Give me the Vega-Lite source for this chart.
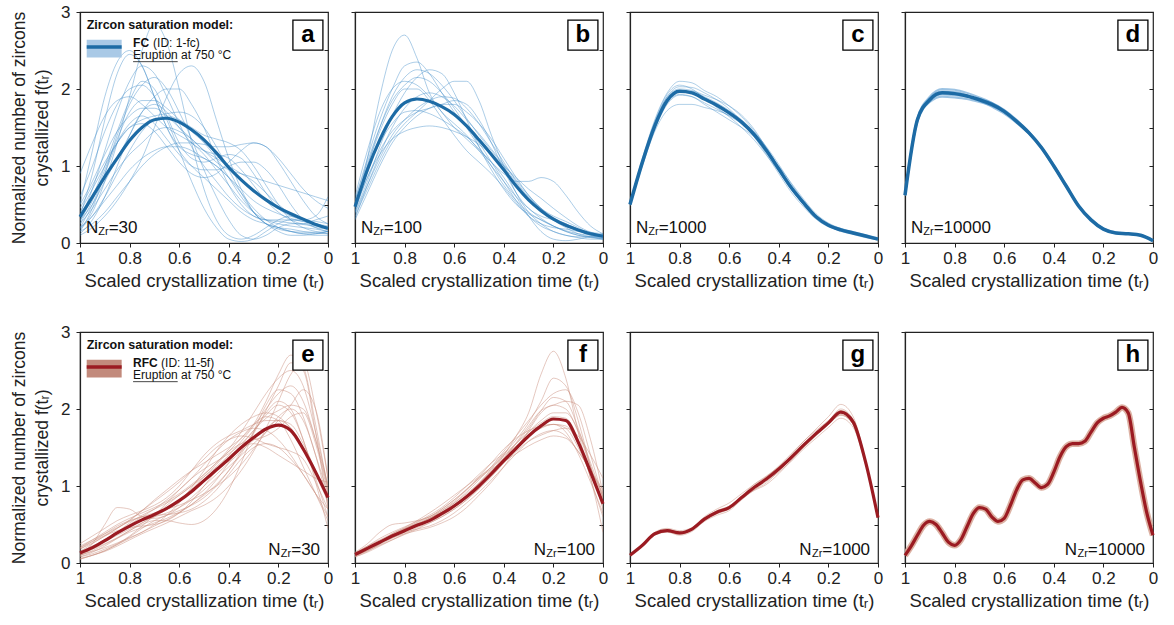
{
"$schema":"https://vega.github.io/schema/vega-lite/v6.json",
"background":"white",
"padding":{"left":9,"top":2,"right":10,"bottom":4},
"spacing":31,
"datasets":{
"a":[
{"t":1,"m":0.34,"s1":0.5,"s2":0.2,"s3":0.15,"s4":0.3,"s5":0.6,"s6":0.2,"s7":0.1,"s8":0.9,"s9":0.25,"s10":0.35,"s11":0.2,"s12":0.15,"s13":0.4,"s14":0.25,"s15":0.12,"s16":0.5,"s17":0.3,"s18":0.45,"s19":0.18,"s20":0.28},
{"t":0.95,"m":0.6,"s1":1.2,"s2":0.4,"s3":0.25,"s4":0.5,"s5":1.0,"s6":0.5,"s7":0.2,"s8":1.3,"s9":0.45,"s10":0.9,"s11":0.35,"s12":0.45,"s13":0.7,"s14":0.55,"s15":0.3,"s16":0.8,"s17":0.7,"s18":0.75,"s19":0.35,"s20":0.6},
{"t":0.9,"m":0.86,"s1":1.9,"s2":0.8,"s3":0.4,"s4":0.8,"s5":1.45,"s6":0.9,"s7":0.35,"s8":1.65,"s9":0.7,"s10":1.6,"s11":0.55,"s12":0.9,"s13":1.0,"s14":0.95,"s15":0.6,"s16":1.15,"s17":1.2,"s18":1.05,"s19":0.6,"s20":1.0},
{"t":0.85,"m":1.1,"s1":2.35,"s2":1.3,"s3":0.6,"s4":1.1,"s5":1.8,"s6":1.3,"s7":0.55,"s8":1.85,"s9":0.95,"s10":2.2,"s11":0.75,"s12":1.4,"s13":1.3,"s14":1.35,"s15":1.0,"s16":1.45,"s17":1.7,"s18":1.3,"s19":0.9,"s20":1.45},
{"t":0.8,"m":1.33,"s1":2.5,"s2":1.9,"s3":0.8,"s4":1.4,"s5":2.0,"s6":1.55,"s7":0.8,"s8":1.9,"s9":1.15,"s10":2.45,"s11":0.95,"s12":1.8,"s13":1.5,"s14":1.7,"s15":1.4,"s16":1.65,"s17":2.1,"s18":1.5,"s19":1.2,"s20":1.85},
{"t":0.75,"m":1.5,"s1":2.3,"s2":2.5,"s3":1.0,"s4":1.7,"s5":2.05,"s6":1.65,"s7":1.1,"s8":1.8,"s9":1.3,"s10":2.3,"s11":1.1,"s12":2.05,"s13":1.55,"s14":1.85,"s15":1.7,"s16":1.75,"s17":2.3,"s18":1.6,"s19":1.45,"s20":2.1},
{"t":0.7,"m":1.6,"s1":1.9,"s2":2.85,"s3":1.15,"s4":1.9,"s5":1.9,"s6":1.55,"s7":1.5,"s8":1.65,"s9":1.45,"s10":1.9,"s11":1.2,"s12":2.15,"s13":1.45,"s14":1.85,"s15":1.8,"s16":1.75,"s17":2.2,"s18":1.65,"s19":1.6,"s20":2.0},
{"t":0.65,"m":1.62,"s1":1.5,"s2":2.6,"s3":1.25,"s4":2.0,"s5":1.6,"s6":1.35,"s7":1.9,"s8":1.5,"s9":1.5,"s10":1.5,"s11":1.25,"s12":2.0,"s13":1.25,"s14":1.75,"s15":1.7,"s16":1.65,"s17":1.9,"s18":1.68,"s19":1.65,"s20":1.65},
{"t":0.6,"m":1.57,"s1":1.2,"s2":2.0,"s3":1.3,"s4":2.0,"s5":1.2,"s6":1.15,"s7":2.2,"s8":1.4,"s9":1.45,"s10":1.25,"s11":1.25,"s12":1.7,"s13":1.05,"s14":1.6,"s15":1.5,"s16":1.5,"s17":1.55,"s18":1.7,"s19":1.6,"s20":1.3},
{"t":0.55,"m":1.47,"s1":1.0,"s2":1.3,"s3":1.3,"s4":1.8,"s5":0.8,"s6":1.0,"s7":2.3,"s8":1.3,"s9":1.35,"s10":1.15,"s11":1.2,"s12":1.35,"s13":0.9,"s14":1.45,"s15":1.3,"s16":1.35,"s17":1.25,"s18":1.65,"s19":1.5,"s20":1.1},
{"t":0.5,"m":1.34,"s1":0.85,"s2":0.7,"s3":1.28,"s4":1.5,"s5":0.45,"s6":0.95,"s7":2.1,"s8":1.15,"s9":1.2,"s10":1.1,"s11":1.1,"s12":0.95,"s13":0.85,"s14":1.3,"s15":1.2,"s16":1.2,"s17":1.0,"s18":1.5,"s19":1.4,"s20":1.05},
{"t":0.45,"m":1.17,"s1":0.7,"s2":0.3,"s3":1.25,"s4":1.1,"s5":0.2,"s6":0.95,"s7":1.6,"s8":0.95,"s9":1.05,"s10":1.0,"s11":1.0,"s12":0.6,"s13":0.9,"s14":1.1,"s15":1.15,"s16":1.1,"s17":0.8,"s18":1.25,"s19":1.35,"s20":1.1},
{"t":0.4,"m":0.98,"s1":0.55,"s2":0.1,"s3":1.25,"s4":0.75,"s5":0.05,"s6":1.0,"s7":1.1,"s8":0.75,"s9":0.95,"s10":0.85,"s11":0.85,"s12":0.3,"s13":1.05,"s14":0.85,"s15":1.1,"s16":1.0,"s17":0.6,"s18":0.95,"s19":1.3,"s20":1.15},
{"t":0.35,"m":0.82,"s1":0.4,"s2":0.05,"s3":1.28,"s4":0.5,"s5":0.02,"s6":1.05,"s7":0.7,"s8":0.55,"s9":0.9,"s10":0.65,"s11":0.7,"s12":0.1,"s13":1.2,"s14":0.6,"s15":0.95,"s16":0.9,"s17":0.45,"s18":0.65,"s19":1.2,"s20":1.1},
{"t":0.3,"m":0.68,"s1":0.3,"s2":0.1,"s3":1.3,"s4":0.35,"s5":0.05,"s6":1.05,"s7":0.4,"s8":0.4,"s9":0.85,"s10":0.45,"s11":0.55,"s12":0.05,"s13":1.3,"s14":0.4,"s15":0.75,"s16":0.8,"s17":0.35,"s18":0.4,"s19":1.0,"s20":0.9},
{"t":0.25,"m":0.56,"s1":0.25,"s2":0.2,"s3":1.25,"s4":0.3,"s5":0.15,"s6":0.95,"s7":0.25,"s8":0.3,"s9":0.8,"s10":0.3,"s11":0.45,"s12":0.1,"s13":1.25,"s14":0.25,"s15":0.55,"s16":0.65,"s17":0.3,"s18":0.25,"s19":0.75,"s20":0.65},
{"t":0.2,"m":0.46,"s1":0.2,"s2":0.3,"s3":1.1,"s4":0.3,"s5":0.25,"s6":0.75,"s7":0.2,"s8":0.25,"s9":0.75,"s10":0.2,"s11":0.38,"s12":0.2,"s13":1.05,"s14":0.15,"s15":0.4,"s16":0.5,"s17":0.28,"s18":0.18,"s19":0.5,"s20":0.45},
{"t":0.15,"m":0.38,"s1":0.18,"s2":0.35,"s3":0.9,"s4":0.3,"s5":0.3,"s6":0.5,"s7":0.15,"s8":0.22,"s9":0.7,"s10":0.15,"s11":0.32,"s12":0.25,"s13":0.8,"s14":0.1,"s15":0.3,"s16":0.38,"s17":0.26,"s18":0.15,"s19":0.3,"s20":0.35},
{"t":0.1,"m":0.31,"s1":0.15,"s2":0.3,"s3":0.7,"s4":0.28,"s5":0.3,"s6":0.3,"s7":0.12,"s8":0.2,"s9":0.65,"s10":0.12,"s11":0.28,"s12":0.25,"s13":0.55,"s14":0.1,"s15":0.25,"s16":0.3,"s17":0.24,"s18":0.14,"s19":0.2,"s20":0.3},
{"t":0.05,"m":0.24,"s1":0.13,"s2":0.25,"s3":0.55,"s4":0.25,"s5":0.25,"s6":0.2,"s7":0.12,"s8":0.18,"s9":0.6,"s10":0.1,"s11":0.25,"s12":0.2,"s13":0.35,"s14":0.12,"s15":0.3,"s16":0.35,"s17":0.22,"s18":0.14,"s19":0.15,"s20":0.28},
{"t":0,"m":0.19,"s1":0.12,"s2":0.2,"s3":0.45,"s4":0.2,"s5":0.2,"s6":0.15,"s7":0.15,"s8":0.15,"s9":0.55,"s10":0.1,"s11":0.22,"s12":0.18,"s13":0.25,"s14":0.15,"s15":0.35,"s16":0.6,"s17":0.2,"s18":0.15,"s19":0.12,"s20":0.25}
],
"b":[
{"t":1,"m":0.47,"s1":0.4,"s2":0.55,"s3":0.35,"s4":0.45,"s5":0.4,"s6":0.5,"s7":0.6,"s8":0.3,"s9":0.5,"s10":0.42,"s11":0.38,"s12":0.55,"s13":0.32,"s14":0.5},
{"t":0.95,"m":0.95,"s1":1.1,"s2":1.1,"s3":0.7,"s4":0.85,"s5":0.8,"s6":0.95,"s7":1.2,"s8":0.65,"s9":1.0,"s10":0.85,"s11":0.75,"s12":1.05,"s13":0.75,"s14":1.0},
{"t":0.9,"m":1.34,"s1":1.9,"s2":1.6,"s3":1.05,"s4":1.15,"s5":1.25,"s6":1.3,"s7":1.7,"s8":1.0,"s9":1.45,"s10":1.2,"s11":1.1,"s12":1.5,"s13":1.15,"s14":1.5},
{"t":0.85,"m":1.64,"s1":2.5,"s2":2.0,"s3":1.35,"s4":1.35,"s5":1.65,"s6":1.55,"s7":2.0,"s8":1.3,"s9":1.8,"s10":1.45,"s11":1.4,"s12":1.85,"s13":1.5,"s14":1.9},
{"t":0.8,"m":1.82,"s1":2.7,"s2":2.3,"s3":1.55,"s4":1.45,"s5":1.95,"s6":1.7,"s7":2.1,"s8":1.5,"s9":2.0,"s10":1.6,"s11":1.6,"s12":2.05,"s13":1.75,"s14":2.15},
{"t":0.75,"m":1.87,"s1":2.4,"s2":2.35,"s3":1.7,"s4":1.5,"s5":2.15,"s6":1.72,"s7":2.05,"s8":1.65,"s9":2.0,"s10":1.7,"s11":1.75,"s12":2.15,"s13":1.9,"s14":2.25},
{"t":0.7,"m":1.84,"s1":1.95,"s2":2.2,"s3":1.85,"s4":1.52,"s5":2.25,"s6":1.68,"s7":1.9,"s8":1.75,"s9":1.85,"s10":1.75,"s11":1.85,"s12":2.1,"s13":1.95,"s14":2.2},
{"t":0.65,"m":1.77,"s1":1.7,"s2":1.95,"s3":2.0,"s4":1.5,"s5":2.2,"s6":1.6,"s7":1.7,"s8":1.8,"s9":1.62,"s10":1.8,"s11":1.9,"s12":1.95,"s13":1.9,"s14":2.05},
{"t":0.6,"m":1.67,"s1":1.55,"s2":1.7,"s3":2.1,"s4":1.45,"s5":1.95,"s6":1.5,"s7":1.5,"s8":1.8,"s9":1.4,"s10":1.85,"s11":1.88,"s12":1.75,"s13":1.78,"s14":1.85},
{"t":0.55,"m":1.52,"s1":1.4,"s2":1.5,"s3":2.1,"s4":1.38,"s5":1.6,"s6":1.38,"s7":1.35,"s8":1.7,"s9":1.2,"s10":1.8,"s11":1.75,"s12":1.5,"s13":1.6,"s14":1.62},
{"t":0.5,"m":1.34,"s1":1.2,"s2":1.3,"s3":1.85,"s4":1.28,"s5":1.25,"s6":1.22,"s7":1.2,"s8":1.55,"s9":1.05,"s10":1.6,"s11":1.55,"s12":1.25,"s13":1.42,"s14":1.4},
{"t":0.45,"m":1.15,"s1":1.0,"s2":1.05,"s3":1.4,"s4":1.15,"s5":0.95,"s6":1.05,"s7":1.05,"s8":1.35,"s9":0.9,"s10":1.3,"s11":1.3,"s12":1.0,"s13":1.22,"s14":1.2},
{"t":0.4,"m":0.95,"s1":0.8,"s2":0.8,"s3":1.0,"s4":1.0,"s5":0.7,"s6":0.9,"s7":0.85,"s8":1.1,"s9":0.72,"s10":0.95,"s11":1.05,"s12":0.75,"s13":1.02,"s14":1.0},
{"t":0.35,"m":0.74,"s1":0.6,"s2":0.55,"s3":0.65,"s4":0.85,"s5":0.5,"s6":0.8,"s7":0.6,"s8":0.85,"s9":0.52,"s10":0.65,"s11":0.8,"s12":0.55,"s13":0.82,"s14":0.78},
{"t":0.3,"m":0.56,"s1":0.45,"s2":0.35,"s3":0.4,"s4":0.7,"s5":0.38,"s6":0.8,"s7":0.35,"s8":0.62,"s9":0.35,"s10":0.45,"s11":0.6,"s12":0.4,"s13":0.62,"s14":0.58},
{"t":0.25,"m":0.42,"s1":0.32,"s2":0.22,"s3":0.25,"s4":0.58,"s5":0.3,"s6":0.85,"s7":0.15,"s8":0.45,"s9":0.25,"s10":0.35,"s11":0.45,"s12":0.3,"s13":0.45,"s14":0.42},
{"t":0.2,"m":0.31,"s1":0.22,"s2":0.15,"s3":0.15,"s4":0.45,"s5":0.22,"s6":0.8,"s7":0.05,"s8":0.33,"s9":0.2,"s10":0.3,"s11":0.35,"s12":0.22,"s13":0.3,"s14":0.3},
{"t":0.15,"m":0.23,"s1":0.15,"s2":0.1,"s3":0.1,"s4":0.33,"s5":0.15,"s6":0.62,"s7":0.03,"s8":0.25,"s9":0.18,"s10":0.25,"s11":0.28,"s12":0.16,"s13":0.2,"s14":0.22},
{"t":0.1,"m":0.17,"s1":0.1,"s2":0.07,"s3":0.08,"s4":0.22,"s5":0.1,"s6":0.4,"s7":0.05,"s8":0.18,"s9":0.15,"s10":0.18,"s11":0.2,"s12":0.12,"s13":0.12,"s14":0.16},
{"t":0.05,"m":0.12,"s1":0.08,"s2":0.05,"s3":0.08,"s4":0.14,"s5":0.07,"s6":0.22,"s7":0.08,"s8":0.14,"s9":0.12,"s10":0.12,"s11":0.12,"s12":0.1,"s13":0.08,"s14":0.1},
{"t":0,"m":0.09,"s1":0.06,"s2":0.05,"s3":0.1,"s4":0.1,"s5":0.05,"s6":0.12,"s7":0.08,"s8":0.12,"s9":0.1,"s10":0.08,"s11":0.07,"s12":0.08,"s13":0.05,"s14":0.06}
],
"c":[
{"t":1,"m":0.5,"s1":0.52,"s2":0.48,"s3":0.5,"s4":0.49,"s5":0.51,"s6":0.5,"s7":0.5,"s8":0.49},
{"t":0.95,"m":1.05,"s1":1.1,"s2":1.0,"s3":1.06,"s4":1.02,"s5":1.08,"s6":1.04,"s7":1.07,"s8":1.03},
{"t":0.9,"m":1.52,"s1":1.6,"s2":1.45,"s3":1.55,"s4":1.48,"s5":1.56,"s6":1.5,"s7":1.58,"s8":1.5},
{"t":0.85,"m":1.85,"s1":1.95,"s2":1.72,"s3":1.9,"s4":1.8,"s5":1.9,"s6":1.82,"s7":1.93,"s8":1.84},
{"t":0.8,"m":1.97,"s1":2.1,"s2":1.8,"s3":2.03,"s4":1.92,"s5":2.0,"s6":1.93,"s7":2.05,"s8":1.98},
{"t":0.75,"m":1.95,"s1":2.08,"s2":1.8,"s3":2.02,"s4":1.9,"s5":1.98,"s6":1.9,"s7":2.0,"s8":1.97},
{"t":0.7,"m":1.87,"s1":1.98,"s2":1.76,"s3":1.95,"s4":1.8,"s5":1.92,"s6":1.82,"s7":1.88,"s8":1.9},
{"t":0.65,"m":1.79,"s1":1.9,"s2":1.72,"s3":1.86,"s4":1.7,"s5":1.86,"s6":1.74,"s7":1.76,"s8":1.82},
{"t":0.6,"m":1.69,"s1":1.78,"s2":1.66,"s3":1.74,"s4":1.6,"s5":1.78,"s6":1.65,"s7":1.64,"s8":1.72},
{"t":0.55,"m":1.57,"s1":1.64,"s2":1.57,"s3":1.58,"s4":1.5,"s5":1.66,"s6":1.55,"s7":1.5,"s8":1.6},
{"t":0.5,"m":1.41,"s1":1.46,"s2":1.44,"s3":1.38,"s4":1.38,"s5":1.48,"s6":1.42,"s7":1.34,"s8":1.44},
{"t":0.45,"m":1.2,"s1":1.24,"s2":1.25,"s3":1.15,"s4":1.22,"s5":1.23,"s6":1.22,"s7":1.14,"s8":1.2},
{"t":0.4,"m":0.96,"s1":0.98,"s2":1.02,"s3":0.9,"s4":1.0,"s5":0.96,"s6":0.98,"s7":0.93,"s8":0.94},
{"t":0.35,"m":0.72,"s1":0.72,"s2":0.77,"s3":0.66,"s4":0.78,"s5":0.7,"s6":0.74,"s7":0.71,"s8":0.7},
{"t":0.3,"m":0.52,"s1":0.5,"s2":0.55,"s3":0.47,"s4":0.57,"s5":0.5,"s6":0.53,"s7":0.52,"s8":0.5},
{"t":0.25,"m":0.34,"s1":0.33,"s2":0.36,"s3":0.31,"s4":0.38,"s5":0.33,"s6":0.36,"s7":0.35,"s8":0.33},
{"t":0.2,"m":0.23,"s1":0.22,"s2":0.24,"s3":0.21,"s4":0.26,"s5":0.23,"s6":0.25,"s7":0.24,"s8":0.22},
{"t":0.15,"m":0.17,"s1":0.16,"s2":0.18,"s3":0.16,"s4":0.19,"s5":0.18,"s6":0.19,"s7":0.17,"s8":0.15},
{"t":0.1,"m":0.13,"s1":0.12,"s2":0.14,"s3":0.12,"s4":0.14,"s5":0.14,"s6":0.15,"s7":0.12,"s8":0.11},
{"t":0.05,"m":0.09,"s1":0.08,"s2":0.1,"s3":0.09,"s4":0.1,"s5":0.1,"s6":0.11,"s7":0.08,"s8":0.07},
{"t":0,"m":0.05,"s1":0.05,"s2":0.06,"s3":0.05,"s4":0.06,"s5":0.06,"s6":0.07,"s7":0.04,"s8":0.04}
],
"d":[
{"t":1,"m":0.62,"s1":0.62,"s2":0.62,"s3":0.62,"s4":0.62},
{"t":0.95,"m":1.6,"s1":1.62,"s2":1.58,"s3":1.61,"s4":1.59},
{"t":0.9,"m":1.86,"s1":1.9,"s2":1.83,"s3":1.88,"s4":1.85},
{"t":0.85,"m":1.95,"s1":2.0,"s2":1.9,"s3":1.97,"s4":1.93},
{"t":0.8,"m":1.94,"s1":1.99,"s2":1.89,"s3":1.96,"s4":1.92},
{"t":0.75,"m":1.91,"s1":1.95,"s2":1.87,"s3":1.92,"s4":1.9},
{"t":0.7,"m":1.86,"s1":1.89,"s2":1.83,"s3":1.85,"s4":1.87},
{"t":0.65,"m":1.8,"s1":1.82,"s2":1.78,"s3":1.77,"s4":1.82},
{"t":0.6,"m":1.71,"s1":1.72,"s2":1.7,"s3":1.68,"s4":1.73},
{"t":0.55,"m":1.58,"s1":1.58,"s2":1.58,"s3":1.56,"s4":1.6},
{"t":0.5,"m":1.43,"s1":1.42,"s2":1.44,"s3":1.42,"s4":1.44},
{"t":0.45,"m":1.24,"s1":1.23,"s2":1.25,"s3":1.24,"s4":1.24},
{"t":0.4,"m":1.0,"s1":0.99,"s2":1.01,"s3":1.0,"s4":1.0},
{"t":0.35,"m":0.74,"s1":0.73,"s2":0.75,"s3":0.74,"s4":0.74},
{"t":0.3,"m":0.48,"s1":0.48,"s2":0.49,"s3":0.48,"s4":0.48},
{"t":0.25,"m":0.3,"s1":0.3,"s2":0.31,"s3":0.3,"s4":0.3},
{"t":0.2,"m":0.18,"s1":0.18,"s2":0.19,"s3":0.18,"s4":0.18},
{"t":0.15,"m":0.13,"s1":0.13,"s2":0.14,"s3":0.13,"s4":0.13},
{"t":0.1,"m":0.12,"s1":0.12,"s2":0.12,"s3":0.12,"s4":0.12},
{"t":0.05,"m":0.1,"s1":0.1,"s2":0.1,"s3":0.1,"s4":0.1},
{"t":0,"m":0.03,"s1":0.03,"s2":0.04,"s3":0.03,"s4":0.03}
],
"e":[
{"t":1,"m":0.13,"s1":0.1,"s2":0.2,"s3":0.05,"s4":0.15,"s5":0.08,"s6":0.25,"s7":0.12,"s8":0.18,"s9":0.1,"s10":0.2,"s11":0.06,"s12":0.15,"s13":0.1,"s14":0.22,"s15":0.08,"s16":0.12,"s17":0.18,"s18":0.05,"s19":0.14,"s20":0.1},
{"t":0.95,"m":0.2,"s1":0.25,"s2":0.3,"s3":0.1,"s4":0.22,"s5":0.14,"s6":0.35,"s7":0.18,"s8":0.28,"s9":0.15,"s10":0.28,"s11":0.1,"s12":0.25,"s13":0.18,"s14":0.3,"s15":0.12,"s16":0.2,"s17":0.26,"s18":0.1,"s19":0.2,"s20":0.16},
{"t":0.9,"m":0.29,"s1":0.5,"s2":0.4,"s3":0.15,"s4":0.3,"s5":0.22,"s6":0.45,"s7":0.25,"s8":0.38,"s9":0.2,"s10":0.36,"s11":0.16,"s12":0.35,"s13":0.28,"s14":0.38,"s15":0.18,"s16":0.3,"s17":0.35,"s18":0.16,"s19":0.28,"s20":0.24},
{"t":0.85,"m":0.39,"s1":0.72,"s2":0.5,"s3":0.22,"s4":0.4,"s5":0.32,"s6":0.55,"s7":0.33,"s8":0.48,"s9":0.26,"s10":0.45,"s11":0.24,"s12":0.42,"s13":0.4,"s14":0.46,"s15":0.25,"s16":0.4,"s17":0.45,"s18":0.24,"s19":0.36,"s20":0.32},
{"t":0.8,"m":0.48,"s1":0.7,"s2":0.58,"s3":0.3,"s4":0.5,"s5":0.42,"s6":0.62,"s7":0.42,"s8":0.55,"s9":0.33,"s10":0.55,"s11":0.34,"s12":0.46,"s13":0.52,"s14":0.54,"s15":0.35,"s16":0.48,"s17":0.56,"s18":0.32,"s19":0.44,"s20":0.4},
{"t":0.75,"m":0.56,"s1":0.6,"s2":0.65,"s3":0.38,"s4":0.6,"s5":0.5,"s6":0.68,"s7":0.52,"s8":0.6,"s9":0.4,"s10":0.68,"s11":0.45,"s12":0.48,"s13":0.62,"s14":0.6,"s15":0.48,"s16":0.55,"s17":0.68,"s18":0.4,"s19":0.52,"s20":0.46},
{"t":0.7,"m":0.63,"s1":0.58,"s2":0.72,"s3":0.45,"s4":0.7,"s5":0.55,"s6":0.75,"s7":0.62,"s8":0.62,"s9":0.5,"s10":0.82,"s11":0.55,"s12":0.5,"s13":0.7,"s14":0.65,"s15":0.62,"s16":0.6,"s17":0.8,"s18":0.48,"s19":0.6,"s20":0.52},
{"t":0.65,"m":0.71,"s1":0.62,"s2":0.8,"s3":0.52,"s4":0.82,"s5":0.55,"s6":0.85,"s7":0.75,"s8":0.63,"s9":0.62,"s10":0.95,"s11":0.62,"s12":0.55,"s13":0.78,"s14":0.7,"s15":0.78,"s16":0.65,"s17":0.92,"s18":0.56,"s19":0.7,"s20":0.58},
{"t":0.6,"m":0.81,"s1":0.72,"s2":0.9,"s3":0.6,"s4":0.95,"s5":0.52,"s6":1.0,"s7":0.88,"s8":0.65,"s9":0.78,"s10":1.08,"s11":0.68,"s12":0.65,"s13":0.88,"s14":0.75,"s15":0.95,"s16":0.72,"s17":1.05,"s18":0.65,"s19":0.82,"s20":0.66},
{"t":0.55,"m":0.93,"s1":0.85,"s2":1.02,"s3":0.68,"s4":1.1,"s5":0.5,"s6":1.2,"s7":1.0,"s8":0.7,"s9":0.98,"s10":1.2,"s11":0.75,"s12":0.8,"s13":1.0,"s14":0.82,"s15":1.1,"s16":0.82,"s17":1.2,"s18":0.76,"s19":0.96,"s20":0.76},
{"t":0.5,"m":1.07,"s1":1.0,"s2":1.15,"s3":0.75,"s4":1.28,"s5":0.55,"s6":1.4,"s7":1.12,"s8":0.8,"s9":1.2,"s10":1.3,"s11":0.85,"s12":1.0,"s13":1.15,"s14":0.9,"s15":1.22,"s16":0.95,"s17":1.35,"s18":0.88,"s19":1.12,"s20":0.9},
{"t":0.45,"m":1.21,"s1":1.15,"s2":1.3,"s3":0.85,"s4":1.45,"s5":0.7,"s6":1.55,"s7":1.25,"s8":0.95,"s9":1.45,"s10":1.4,"s11":1.0,"s12":1.2,"s13":1.3,"s14":1.0,"s15":1.32,"s16":1.1,"s17":1.5,"s18":1.02,"s19":1.28,"s20":1.08},
{"t":0.4,"m":1.35,"s1":1.3,"s2":1.48,"s3":1.0,"s4":1.6,"s5":0.95,"s6":1.65,"s7":1.4,"s8":1.15,"s9":1.65,"s10":1.5,"s11":1.2,"s12":1.38,"s13":1.45,"s14":1.12,"s15":1.42,"s16":1.25,"s17":1.6,"s18":1.2,"s19":1.45,"s20":1.3},
{"t":0.35,"m":1.5,"s1":1.45,"s2":1.7,"s3":1.2,"s4":1.7,"s5":1.3,"s6":1.72,"s7":1.58,"s8":1.35,"s9":1.8,"s10":1.62,"s11":1.45,"s12":1.5,"s13":1.55,"s14":1.28,"s15":1.55,"s16":1.4,"s17":1.65,"s18":1.42,"s19":1.62,"s20":1.52},
{"t":0.3,"m":1.63,"s1":1.6,"s2":1.95,"s3":1.45,"s4":1.75,"s5":1.7,"s6":1.8,"s7":1.78,"s8":1.5,"s9":1.9,"s10":1.8,"s11":1.7,"s12":1.55,"s13":1.6,"s14":1.48,"s15":1.72,"s16":1.55,"s17":1.62,"s18":1.68,"s19":1.8,"s20":1.72},
{"t":0.25,"m":1.74,"s1":1.75,"s2":2.2,"s3":1.75,"s4":1.72,"s5":2.05,"s6":1.85,"s7":2.0,"s8":1.55,"s9":1.95,"s10":2.1,"s11":1.95,"s12":1.5,"s13":1.65,"s14":1.7,"s15":1.92,"s16":1.7,"s17":1.55,"s18":1.98,"s19":1.9,"s20":1.88},
{"t":0.2,"m":1.79,"s1":1.85,"s2":2.4,"s3":2.1,"s4":1.6,"s5":2.25,"s6":1.85,"s7":2.2,"s8":1.5,"s9":1.9,"s10":2.45,"s11":2.1,"s12":1.4,"s13":1.75,"s14":1.9,"s15":2.05,"s16":1.85,"s17":1.5,"s18":2.3,"s19":1.85,"s20":1.98},
{"t":0.15,"m":1.72,"s1":1.8,"s2":2.5,"s3":2.45,"s4":1.4,"s5":2.2,"s6":1.75,"s7":2.3,"s8":1.35,"s9":1.75,"s10":2.7,"s11":2.0,"s12":1.3,"s13":1.9,"s14":2.0,"s15":1.95,"s16":2.05,"s17":1.45,"s18":2.6,"s19":1.6,"s20":2.05},
{"t":0.1,"m":1.48,"s1":1.55,"s2":2.3,"s3":2.6,"s4":1.15,"s5":1.9,"s6":1.5,"s7":2.1,"s8":1.15,"s9":1.5,"s10":2.55,"s11":1.6,"s12":1.2,"s13":1.95,"s14":1.85,"s15":1.6,"s16":2.25,"s17":1.35,"s18":2.5,"s19":1.25,"s20":2.0},
{"t":0.05,"m":1.18,"s1":1.2,"s2":1.7,"s3":2.0,"s4":0.9,"s5":1.4,"s6":1.15,"s7":1.6,"s8":0.9,"s9":1.2,"s10":1.8,"s11":1.1,"s12":1.1,"s13":1.55,"s14":1.4,"s15":1.05,"s16":2.0,"s17":1.05,"s18":1.7,"s19":0.9,"s20":1.6},
{"t":0,"m":0.85,"s1":0.85,"s2":1.0,"s3":1.1,"s4":0.7,"s5":0.9,"s6":0.8,"s7":0.95,"s8":0.6,"s9":0.85,"s10":0.95,"s11":0.6,"s12":1.05,"s13":0.9,"s14":0.75,"s15":0.45,"s16":1.1,"s17":0.7,"s18":0.7,"s19":0.55,"s20":1.0}
],
"f":[
{"t":1,"m":0.11,"s1":0.08,"s2":0.14,"s3":0.1,"s4":0.12,"s5":0.09,"s6":0.13,"s7":0.1,"s8":0.12,"s9":0.08,"s10":0.13,"s11":0.1,"s12":0.11,"s13":0.09,"s14":0.12},
{"t":0.95,"m":0.19,"s1":0.15,"s2":0.25,"s3":0.16,"s4":0.2,"s5":0.17,"s6":0.22,"s7":0.18,"s8":0.2,"s9":0.14,"s10":0.21,"s11":0.18,"s12":0.19,"s13":0.16,"s14":0.22},
{"t":0.9,"m":0.27,"s1":0.25,"s2":0.4,"s3":0.24,"s4":0.28,"s5":0.25,"s6":0.3,"s7":0.26,"s8":0.28,"s9":0.22,"s10":0.29,"s11":0.26,"s12":0.27,"s13":0.23,"s14":0.32},
{"t":0.85,"m":0.35,"s1":0.38,"s2":0.5,"s3":0.32,"s4":0.35,"s5":0.34,"s6":0.38,"s7":0.33,"s8":0.36,"s9":0.3,"s10":0.37,"s11":0.34,"s12":0.36,"s13":0.3,"s14":0.4},
{"t":0.8,"m":0.42,"s1":0.45,"s2":0.52,"s3":0.4,"s4":0.4,"s5":0.42,"s6":0.46,"s7":0.38,"s8":0.44,"s9":0.38,"s10":0.45,"s11":0.42,"s12":0.44,"s13":0.37,"s14":0.47},
{"t":0.75,"m":0.49,"s1":0.5,"s2":0.55,"s3":0.48,"s4":0.44,"s5":0.5,"s6":0.55,"s7":0.42,"s8":0.52,"s9":0.46,"s10":0.53,"s11":0.5,"s12":0.51,"s13":0.44,"s14":0.54},
{"t":0.7,"m":0.55,"s1":0.55,"s2":0.6,"s3":0.56,"s4":0.48,"s5":0.58,"s6":0.65,"s7":0.46,"s8":0.6,"s9":0.52,"s10":0.62,"s11":0.58,"s12":0.58,"s13":0.52,"s14":0.6},
{"t":0.65,"m":0.64,"s1":0.62,"s2":0.7,"s3":0.66,"s4":0.55,"s5":0.68,"s6":0.76,"s7":0.52,"s8":0.7,"s9":0.6,"s10":0.72,"s11":0.66,"s12":0.66,"s13":0.6,"s14":0.68},
{"t":0.6,"m":0.74,"s1":0.72,"s2":0.82,"s3":0.78,"s4":0.65,"s5":0.8,"s6":0.88,"s7":0.6,"s8":0.82,"s9":0.7,"s10":0.85,"s11":0.76,"s12":0.75,"s13":0.7,"s14":0.78},
{"t":0.55,"m":0.86,"s1":0.85,"s2":0.95,"s3":0.92,"s4":0.78,"s5":0.95,"s6":1.0,"s7":0.72,"s8":0.96,"s9":0.82,"s10":1.0,"s11":0.88,"s12":0.86,"s13":0.82,"s14":0.9},
{"t":0.5,"m":1.0,"s1":1.0,"s2":1.1,"s3":1.08,"s4":0.92,"s5":1.12,"s6":1.12,"s7":0.88,"s8":1.1,"s9":0.98,"s10":1.15,"s11":1.04,"s12":0.99,"s13":0.96,"s14":1.04},
{"t":0.45,"m":1.16,"s1":1.18,"s2":1.25,"s3":1.25,"s4":1.08,"s5":1.3,"s6":1.24,"s7":1.05,"s8":1.22,"s9":1.16,"s10":1.3,"s11":1.22,"s12":1.14,"s13":1.12,"s14":1.2},
{"t":0.4,"m":1.33,"s1":1.4,"s2":1.4,"s3":1.45,"s4":1.25,"s5":1.48,"s6":1.38,"s7":1.25,"s8":1.32,"s9":1.36,"s10":1.42,"s11":1.42,"s12":1.3,"s13":1.3,"s14":1.36},
{"t":0.35,"m":1.49,"s1":1.65,"s2":1.52,"s3":1.65,"s4":1.42,"s5":1.62,"s6":1.55,"s7":1.48,"s8":1.42,"s9":1.56,"s10":1.55,"s11":1.6,"s12":1.45,"s13":1.5,"s14":1.52},
{"t":0.3,"m":1.65,"s1":1.95,"s2":1.65,"s3":1.85,"s4":1.58,"s5":1.72,"s6":1.75,"s7":1.72,"s8":1.52,"s9":1.78,"s10":1.7,"s11":1.82,"s12":1.58,"s13":1.7,"s14":1.66},
{"t":0.25,"m":1.78,"s1":2.45,"s2":1.75,"s3":2.05,"s4":1.68,"s5":1.78,"s6":1.98,"s7":1.95,"s8":1.6,"s9":1.98,"s10":1.82,"s11":2.1,"s12":1.66,"s13":1.85,"s14":1.76},
{"t":0.2,"m":1.87,"s1":2.75,"s2":1.8,"s3":2.2,"s4":1.72,"s5":1.8,"s6":2.15,"s7":2.05,"s8":1.65,"s9":2.05,"s10":1.9,"s11":2.4,"s12":1.72,"s13":1.95,"s14":1.8},
{"t":0.15,"m":1.85,"s1":2.4,"s2":1.75,"s3":2.25,"s4":1.65,"s5":1.7,"s6":2.1,"s7":2.0,"s8":1.62,"s9":2.1,"s10":1.88,"s11":2.3,"s12":1.75,"s13":1.95,"s14":1.78},
{"t":0.1,"m":1.57,"s1":1.7,"s2":1.5,"s3":1.95,"s4":1.45,"s5":1.42,"s6":1.75,"s7":1.7,"s8":1.45,"s9":2.05,"s10":1.6,"s11":1.85,"s12":1.65,"s13":1.72,"s14":1.55},
{"t":0.05,"m":1.18,"s1":1.1,"s2":1.15,"s3":1.4,"s4":1.2,"s5":1.05,"s6":1.25,"s7":1.25,"s8":1.2,"s9":1.6,"s10":1.1,"s11":1.25,"s12":1.4,"s13":1.3,"s14":1.2},
{"t":0,"m":0.77,"s1":0.6,"s2":0.8,"s3":0.85,"s4":0.95,"s5":0.65,"s6":0.75,"s7":0.85,"s8":0.9,"s9":0.9,"s10":0.4,"s11":0.7,"s12":1.1,"s13":0.85,"s14":0.8}
],
"g":[
{"t":1,"m":0.1,"s1":0.1,"s2":0.1,"s3":0.11,"s4":0.1,"s5":0.1,"s6":0.1,"s7":0.1,"s8":0.1},
{"t":0.95,"m":0.23,"s1":0.24,"s2":0.22,"s3":0.24,"s4":0.23,"s5":0.23,"s6":0.22,"s7":0.23,"s8":0.23},
{"t":0.9,"m":0.38,"s1":0.4,"s2":0.36,"s3":0.39,"s4":0.37,"s5":0.39,"s6":0.37,"s7":0.38,"s8":0.38},
{"t":0.85,"m":0.42,"s1":0.45,"s2":0.4,"s3":0.43,"s4":0.41,"s5":0.44,"s6":0.41,"s7":0.43,"s8":0.42},
{"t":0.8,"m":0.39,"s1":0.42,"s2":0.36,"s3":0.4,"s4":0.38,"s5":0.4,"s6":0.37,"s7":0.4,"s8":0.38},
{"t":0.75,"m":0.44,"s1":0.46,"s2":0.41,"s3":0.45,"s4":0.43,"s5":0.45,"s6":0.43,"s7":0.44,"s8":0.43},
{"t":0.7,"m":0.57,"s1":0.6,"s2":0.54,"s3":0.58,"s4":0.56,"s5":0.58,"s6":0.55,"s7":0.57,"s8":0.56},
{"t":0.65,"m":0.66,"s1":0.7,"s2":0.62,"s3":0.68,"s4":0.64,"s5":0.66,"s6":0.67,"s7":0.65,"s8":0.66},
{"t":0.6,"m":0.72,"s1":0.78,"s2":0.68,"s3":0.74,"s4":0.7,"s5":0.73,"s6":0.72,"s7":0.71,"s8":0.72},
{"t":0.55,"m":0.85,"s1":0.9,"s2":0.82,"s3":0.86,"s4":0.84,"s5":0.87,"s6":0.84,"s7":0.84,"s8":0.85},
{"t":0.5,"m":0.98,"s1":1.02,"s2":0.95,"s3":0.95,"s4":1.0,"s5":1.02,"s6":0.94,"s7":0.97,"s8":0.98},
{"t":0.45,"m":1.09,"s1":1.12,"s2":1.06,"s3":1.04,"s4":1.12,"s5":1.13,"s6":1.02,"s7":1.08,"s8":1.1},
{"t":0.4,"m":1.22,"s1":1.26,"s2":1.18,"s3":1.2,"s4":1.24,"s5":1.25,"s6":1.16,"s7":1.21,"s8":1.23},
{"t":0.35,"m":1.37,"s1":1.42,"s2":1.32,"s3":1.4,"s4":1.36,"s5":1.38,"s6":1.33,"s7":1.36,"s8":1.38},
{"t":0.3,"m":1.53,"s1":1.58,"s2":1.48,"s3":1.58,"s4":1.5,"s5":1.52,"s6":1.5,"s7":1.52,"s8":1.54},
{"t":0.25,"m":1.68,"s1":1.74,"s2":1.62,"s3":1.72,"s4":1.65,"s5":1.66,"s6":1.66,"s7":1.68,"s8":1.69},
{"t":0.2,"m":1.82,"s1":1.9,"s2":1.76,"s3":1.85,"s4":1.8,"s5":1.82,"s6":1.8,"s7":1.84,"s8":1.8},
{"t":0.15,"m":1.96,"s1":2.06,"s2":1.88,"s3":1.98,"s4":1.93,"s5":1.98,"s6":1.92,"s7":2.0,"s8":1.92},
{"t":0.1,"m":1.83,"s1":1.9,"s2":1.76,"s3":1.86,"s4":1.8,"s5":1.86,"s6":1.8,"s7":1.86,"s8":1.8},
{"t":0.05,"m":1.31,"s1":1.33,"s2":1.28,"s3":1.32,"s4":1.3,"s5":1.32,"s6":1.3,"s7":1.32,"s8":1.3},
{"t":0,"m":0.59,"s1":0.58,"s2":0.6,"s3":0.59,"s4":0.6,"s5":0.58,"s6":0.6,"s7":0.59,"s8":0.6}
],
"h":[
{"t":1,"m":0.1},{"t":0.975,"m":0.22},{"t":0.95,"m":0.36},{"t":0.925,"m":0.49},{"t":0.9,"m":0.54},{"t":0.875,"m":0.5},{"t":0.85,"m":0.39},{"t":0.825,"m":0.27},{"t":0.8,"m":0.23},{"t":0.775,"m":0.3},{"t":0.75,"m":0.47},{"t":0.725,"m":0.64},{"t":0.7,"m":0.72},{"t":0.675,"m":0.7},{"t":0.65,"m":0.6},{"t":0.625,"m":0.54},{"t":0.6,"m":0.58},{"t":0.575,"m":0.75},{"t":0.55,"m":0.95},{"t":0.525,"m":1.08},{"t":0.5,"m":1.1},{"t":0.475,"m":1.04},{"t":0.45,"m":0.98},{"t":0.425,"m":1.02},{"t":0.4,"m":1.18},{"t":0.375,"m":1.38},{"t":0.35,"m":1.51},{"t":0.325,"m":1.55},{"t":0.3,"m":1.55},{"t":0.275,"m":1.58},{"t":0.25,"m":1.7},{"t":0.225,"m":1.82},{"t":0.2,"m":1.88},{"t":0.175,"m":1.91},{"t":0.15,"m":1.96},{"t":0.125,"m":2.02},{"t":0.1,"m":1.95},{"t":0.075,"m":1.5},{"t":0.05,"m":1.05},{"t":0.025,"m":0.65},{"t":0,"m":0.36}
]
},
"vconcat":[
{"hconcat":[
{"width":248,"height":231,"data":{"name":"a"},"resolve":{"axis":{"y":"independent"}},"layer":[{"layer":[
 {"transform":[{"fold":["s1","s2","s3","s4","s5","s6","s7","s8","s9","s10","s11","s12","s13","s14","s15","s16","s17","s18","s19","s20"],"as":["k","v"]}],
  "mark":{"type":"line","interpolate":"monotone","color":"#3d8ac6","strokeWidth":0.9,"opacity":0.48,"clip":true},
  "encoding":{"x":{"field":"t","type":"quantitative","scale":{"domain":[0,1],"reverse":true},"axis":{"values":[0,0.2,0.4,0.6,0.8,1],"labelExpr":"format(datum.value,'~g')","title":"Scaled crystallization time (tᵣ)"}},
   "y":{"field":"v","type":"quantitative","scale":{"domain":[0,3]},"axis":{"values":[0,0.5,1,1.5,2,2.5,3],"labelExpr":"datum.value % 1 == 0 ? format(datum.value,'d') : ''","title":["Normalized number of zircons","crystallized f(tᵣ)"]}},
   "detail":{"field":"k"}}},
 {"mark":{"type":"line","interpolate":"monotone","color":"#1d6ba5","strokeWidth":3.2},
  "encoding":{"x":{"field":"t","type":"quantitative","title":"Scaled crystallization time (tᵣ)"},"y":{"field":"m","type":"quantitative","title":["Normalized number of zircons","crystallized f(tᵣ)"]}}},
 {"data":{"values":[{}]},"mark":{"type":"rect","color":"#a9c9e6"},"encoding":{"x":{"datum":0.973},"x2":{"datum":0.832},"y":{"datum":2.64},"y2":{"datum":2.41}}},
 {"data":{"values":[{}]},"mark":{"type":"rule","color":"#1d6ba5","strokeWidth":3.5},"encoding":{"x":{"datum":0.973},"x2":{"datum":0.832},"y":{"datum":2.545}}},
 {"data":{"values":[{}]},"mark":{"type":"text","align":"left","baseline":"middle","fontSize":12.5,"fontWeight":"bold","color":"#111"},"encoding":{"x":{"datum":0.973},"y":{"datum":2.827},"text":{"value":"Zircon saturation model:"}}},
 {"data":{"values":[{}]},"mark":{"type":"text","align":"left","baseline":"middle","fontSize":12,"fontWeight":"bold","color":"#111"},"encoding":{"x":{"datum":0.786},"y":{"datum":2.6},"text":{"value":"FC"}}},
 {"data":{"values":[{}]},"mark":{"type":"text","align":"left","baseline":"middle","fontSize":12,"dx":20,"color":"#111"},"encoding":{"x":{"datum":0.786},"y":{"datum":2.6},"text":{"value":"(ID: 1-fc)"}}},
 {"data":{"values":[{}]},"mark":{"type":"text","align":"left","baseline":"middle","fontSize":12,"color":"#111"},"encoding":{"x":{"datum":0.786},"y":{"datum":2.44},"text":{"value":"Eruption at 750 °C"}}},
 {"data":{"values":[{}]},"mark":{"type":"rule","color":"#333","strokeWidth":0.9},"encoding":{"x":{"datum":0.786},"x2":{"datum":0.606},"y":{"datum":2.355}}},
 {"data":{"values":[{}]},"mark":{"type":"point","shape":"square","size":900,"filled":true,"fill":"white","stroke":"#000","strokeWidth":1.3,"opacity":1},"encoding":{"x":{"datum":0.081},"y":{"datum":2.7}}},
 {"data":{"values":[{}]},"mark":{"type":"text","align":"center","baseline":"middle","fontSize":24,"fontWeight":"bold","color":"#000"},"encoding":{"x":{"datum":0.081},"y":{"datum":2.7},"text":{"value":"a"}}},
 {"data":{"values":[{}]},"mark":{"type":"text","align":"left","baseline":"middle","fontSize":17,"color":"#111"},"encoding":{"x":{"datum":0.976},"y":{"datum":0.19},"text":{"value":"N"}}},
 {"data":{"values":[{}]},"mark":{"type":"text","align":"left","baseline":"middle","fontSize":11,"dx":12.3,"dy":4,"color":"#111"},"encoding":{"x":{"datum":0.976},"y":{"datum":0.19},"text":{"value":"Zr"}}},
 {"data":{"values":[{}]},"mark":{"type":"text","align":"left","baseline":"middle","fontSize":17,"dx":22.7,"color":"#111"},"encoding":{"x":{"datum":0.976},"y":{"datum":0.19},"text":{"value":"=30"}}}
]},
 {"mark":{"type":"line","opacity":0},"encoding":{"x":{"field":"t","type":"quantitative","title":"Scaled crystallization time (tᵣ)"},"y":{"field":"m","type":"quantitative","axis":{"orient":"right","values":[0,0.5,1,1.5,2,2.5,3],"labels":false,"title":null,"domain":false,"tickSize":-4}}}}
]},
{"width":248,"height":231,"data":{"name":"b"},"resolve":{"axis":{"y":"independent"}},"layer":[{"layer":[
 {"transform":[{"fold":["s1","s2","s3","s4","s5","s6","s7","s8","s9","s10","s11","s12","s13","s14"],"as":["k","v"]}],
  "mark":{"type":"line","interpolate":"monotone","color":"#3d8ac6","strokeWidth":0.9,"opacity":0.48,"clip":true},
  "encoding":{"x":{"field":"t","type":"quantitative","scale":{"domain":[0,1],"reverse":true},"axis":{"values":[0,0.2,0.4,0.6,0.8,1],"labelExpr":"format(datum.value,'~g')","title":"Scaled crystallization time (tᵣ)"}},
   "y":{"field":"v","type":"quantitative","scale":{"domain":[0,3]},"axis":{"values":[0,0.5,1,1.5,2,2.5,3],"labels":false,"title":null}},
   "detail":{"field":"k"}}},
 {"mark":{"type":"line","interpolate":"monotone","color":"#1d6ba5","strokeWidth":3.2},
  "encoding":{"x":{"field":"t","type":"quantitative","title":"Scaled crystallization time (tᵣ)"},"y":{"field":"m","type":"quantitative","title":null}}},
 {"data":{"values":[{}]},"mark":{"type":"point","shape":"square","size":900,"filled":true,"fill":"white","stroke":"#000","strokeWidth":1.3,"opacity":1},"encoding":{"x":{"datum":0.081},"y":{"datum":2.7}}},
 {"data":{"values":[{}]},"mark":{"type":"text","align":"center","baseline":"middle","fontSize":24,"fontWeight":"bold","color":"#000"},"encoding":{"x":{"datum":0.081},"y":{"datum":2.7},"text":{"value":"b"}}},
 {"data":{"values":[{}]},"mark":{"type":"text","align":"left","baseline":"middle","fontSize":17,"color":"#111"},"encoding":{"x":{"datum":0.976},"y":{"datum":0.19},"text":{"value":"N"}}},
 {"data":{"values":[{}]},"mark":{"type":"text","align":"left","baseline":"middle","fontSize":11,"dx":12.3,"dy":4,"color":"#111"},"encoding":{"x":{"datum":0.976},"y":{"datum":0.19},"text":{"value":"Zr"}}},
 {"data":{"values":[{}]},"mark":{"type":"text","align":"left","baseline":"middle","fontSize":17,"dx":22.7,"color":"#111"},"encoding":{"x":{"datum":0.976},"y":{"datum":0.19},"text":{"value":"=100"}}}
]},
 {"mark":{"type":"line","opacity":0},"encoding":{"x":{"field":"t","type":"quantitative","title":"Scaled crystallization time (tᵣ)"},"y":{"field":"m","type":"quantitative","axis":{"orient":"right","values":[0,0.5,1,1.5,2,2.5,3],"labels":false,"title":null,"domain":false,"tickSize":-4}}}}
]},
{"width":248,"height":231,"data":{"name":"c"},"resolve":{"axis":{"y":"independent"}},"layer":[{"layer":[
 {"transform":[{"fold":["s1","s2","s3","s4","s5","s6","s7","s8"],"as":["k","v"]}],
  "mark":{"type":"line","interpolate":"monotone","color":"#3d8ac6","strokeWidth":0.8,"opacity":0.5,"clip":true},
  "encoding":{"x":{"field":"t","type":"quantitative","scale":{"domain":[0,1],"reverse":true},"axis":{"values":[0,0.2,0.4,0.6,0.8,1],"labelExpr":"format(datum.value,'~g')","title":"Scaled crystallization time (tᵣ)"}},
   "y":{"field":"v","type":"quantitative","scale":{"domain":[0,3]},"axis":{"values":[0,0.5,1,1.5,2,2.5,3],"labels":false,"title":null}},
   "detail":{"field":"k"}}},
 {"mark":{"type":"line","interpolate":"monotone","color":"#1d6ba5","strokeWidth":3.5},
  "encoding":{"x":{"field":"t","type":"quantitative","title":"Scaled crystallization time (tᵣ)"},"y":{"field":"m","type":"quantitative","title":null}}},
 {"data":{"values":[{}]},"mark":{"type":"point","shape":"square","size":900,"filled":true,"fill":"white","stroke":"#000","strokeWidth":1.3,"opacity":1},"encoding":{"x":{"datum":0.081},"y":{"datum":2.7}}},
 {"data":{"values":[{}]},"mark":{"type":"text","align":"center","baseline":"middle","fontSize":24,"fontWeight":"bold","color":"#000"},"encoding":{"x":{"datum":0.081},"y":{"datum":2.7},"text":{"value":"c"}}},
 {"data":{"values":[{}]},"mark":{"type":"text","align":"left","baseline":"middle","fontSize":17,"color":"#111"},"encoding":{"x":{"datum":0.976},"y":{"datum":0.19},"text":{"value":"N"}}},
 {"data":{"values":[{}]},"mark":{"type":"text","align":"left","baseline":"middle","fontSize":11,"dx":12.3,"dy":4,"color":"#111"},"encoding":{"x":{"datum":0.976},"y":{"datum":0.19},"text":{"value":"Zr"}}},
 {"data":{"values":[{}]},"mark":{"type":"text","align":"left","baseline":"middle","fontSize":17,"dx":22.7,"color":"#111"},"encoding":{"x":{"datum":0.976},"y":{"datum":0.19},"text":{"value":"=1000"}}}
]},
 {"mark":{"type":"line","opacity":0},"encoding":{"x":{"field":"t","type":"quantitative","title":"Scaled crystallization time (tᵣ)"},"y":{"field":"m","type":"quantitative","axis":{"orient":"right","values":[0,0.5,1,1.5,2,2.5,3],"labels":false,"title":null,"domain":false,"tickSize":-4}}}}
]},
{"width":248,"height":231,"data":{"name":"d"},"resolve":{"axis":{"y":"independent"}},"layer":[{"layer":[
 {"transform":[{"fold":["s1","s2","s3","s4"],"as":["k","v"]}],
  "mark":{"type":"line","interpolate":"monotone","color":"#5a9bd0","strokeWidth":2,"opacity":0.6,"clip":true},
  "encoding":{"x":{"field":"t","type":"quantitative","scale":{"domain":[0,1],"reverse":true},"axis":{"values":[0,0.2,0.4,0.6,0.8,1],"labelExpr":"format(datum.value,'~g')","title":"Scaled crystallization time (tᵣ)"}},
   "y":{"field":"v","type":"quantitative","scale":{"domain":[0,3]},"axis":{"values":[0,0.5,1,1.5,2,2.5,3],"labels":false,"title":null}},
   "detail":{"field":"k"}}},
 {"mark":{"type":"line","interpolate":"monotone","color":"#1d6ba5","strokeWidth":3.5},
  "encoding":{"x":{"field":"t","type":"quantitative","title":"Scaled crystallization time (tᵣ)"},"y":{"field":"m","type":"quantitative","title":null}}},
 {"data":{"values":[{}]},"mark":{"type":"point","shape":"square","size":900,"filled":true,"fill":"white","stroke":"#000","strokeWidth":1.3,"opacity":1},"encoding":{"x":{"datum":0.081},"y":{"datum":2.7}}},
 {"data":{"values":[{}]},"mark":{"type":"text","align":"center","baseline":"middle","fontSize":24,"fontWeight":"bold","color":"#000"},"encoding":{"x":{"datum":0.081},"y":{"datum":2.7},"text":{"value":"d"}}},
 {"data":{"values":[{}]},"mark":{"type":"text","align":"left","baseline":"middle","fontSize":17,"color":"#111"},"encoding":{"x":{"datum":0.976},"y":{"datum":0.19},"text":{"value":"N"}}},
 {"data":{"values":[{}]},"mark":{"type":"text","align":"left","baseline":"middle","fontSize":11,"dx":12.3,"dy":4,"color":"#111"},"encoding":{"x":{"datum":0.976},"y":{"datum":0.19},"text":{"value":"Zr"}}},
 {"data":{"values":[{}]},"mark":{"type":"text","align":"left","baseline":"middle","fontSize":17,"dx":22.7,"color":"#111"},"encoding":{"x":{"datum":0.976},"y":{"datum":0.19},"text":{"value":"=10000"}}}
]},
 {"mark":{"type":"line","opacity":0},"encoding":{"x":{"field":"t","type":"quantitative","title":"Scaled crystallization time (tᵣ)"},"y":{"field":"m","type":"quantitative","axis":{"orient":"right","values":[0,0.5,1,1.5,2,2.5,3],"labels":false,"title":null,"domain":false,"tickSize":-4}}}}
]}
],"spacing":27,"bounds":"flush"},
{"hconcat":[
{"width":248,"height":231,"data":{"name":"e"},"resolve":{"axis":{"y":"independent"}},"layer":[{"layer":[
 {"transform":[{"fold":["s1","s2","s3","s4","s5","s6","s7","s8","s9","s10","s11","s12","s13","s14","s15","s16","s17","s18","s19","s20"],"as":["k","v"]}],
  "mark":{"type":"line","interpolate":"monotone","color":"#c98f7e","strokeWidth":0.9,"opacity":0.55,"clip":true},
  "encoding":{"x":{"field":"t","type":"quantitative","scale":{"domain":[0,1],"reverse":true},"axis":{"values":[0,0.2,0.4,0.6,0.8,1],"labelExpr":"format(datum.value,'~g')","title":"Scaled crystallization time (tᵣ)"}},
   "y":{"field":"v","type":"quantitative","scale":{"domain":[0,3]},"axis":{"values":[0,0.5,1,1.5,2,2.5,3],"labelExpr":"datum.value % 1 == 0 ? format(datum.value,'d') : ''","title":["Normalized number of zircons","crystallized f(tᵣ)"]}},
   "detail":{"field":"k"}}},
 {"mark":{"type":"line","interpolate":"monotone","color":"#9b1b22","strokeWidth":3.2},
  "encoding":{"x":{"field":"t","type":"quantitative","title":"Scaled crystallization time (tᵣ)"},"y":{"field":"m","type":"quantitative","title":["Normalized number of zircons","crystallized f(tᵣ)"]}}},
 {"data":{"values":[{}]},"mark":{"type":"rect","color":"#c28a7c"},"encoding":{"x":{"datum":0.973},"x2":{"datum":0.832},"y":{"datum":2.64},"y2":{"datum":2.41}}},
 {"data":{"values":[{}]},"mark":{"type":"rule","color":"#9b1b22","strokeWidth":3.5},"encoding":{"x":{"datum":0.973},"x2":{"datum":0.832},"y":{"datum":2.545}}},
 {"data":{"values":[{}]},"mark":{"type":"text","align":"left","baseline":"middle","fontSize":12.5,"fontWeight":"bold","color":"#111"},"encoding":{"x":{"datum":0.973},"y":{"datum":2.827},"text":{"value":"Zircon saturation model:"}}},
 {"data":{"values":[{}]},"mark":{"type":"text","align":"left","baseline":"middle","fontSize":12,"fontWeight":"bold","color":"#111"},"encoding":{"x":{"datum":0.786},"y":{"datum":2.6},"text":{"value":"RFC"}}},
 {"data":{"values":[{}]},"mark":{"type":"text","align":"left","baseline":"middle","fontSize":12,"dx":28,"color":"#111"},"encoding":{"x":{"datum":0.786},"y":{"datum":2.6},"text":{"value":"(ID: 11-5f)"}}},
 {"data":{"values":[{}]},"mark":{"type":"text","align":"left","baseline":"middle","fontSize":12,"color":"#111"},"encoding":{"x":{"datum":0.786},"y":{"datum":2.44},"text":{"value":"Eruption at 750 °C"}}},
 {"data":{"values":[{}]},"mark":{"type":"rule","color":"#333","strokeWidth":0.9},"encoding":{"x":{"datum":0.786},"x2":{"datum":0.606},"y":{"datum":2.355}}},
 {"data":{"values":[{}]},"mark":{"type":"point","shape":"square","size":900,"filled":true,"fill":"white","stroke":"#000","strokeWidth":1.3,"opacity":1},"encoding":{"x":{"datum":0.081},"y":{"datum":2.7}}},
 {"data":{"values":[{}]},"mark":{"type":"text","align":"center","baseline":"middle","fontSize":24,"fontWeight":"bold","color":"#000"},"encoding":{"x":{"datum":0.081},"y":{"datum":2.7},"text":{"value":"e"}}},
 {"data":{"values":[{}]},"mark":{"type":"text","align":"right","baseline":"middle","fontSize":17,"dx":-39.5,"color":"#111"},"encoding":{"x":{"datum":0.032},"y":{"datum":0.17},"text":{"value":"N"}}},
 {"data":{"values":[{}]},"mark":{"type":"text","align":"right","baseline":"middle","fontSize":11,"dx":-28.8,"dy":4,"color":"#111"},"encoding":{"x":{"datum":0.032},"y":{"datum":0.17},"text":{"value":"Zr"}}},
 {"data":{"values":[{}]},"mark":{"type":"text","align":"right","baseline":"middle","fontSize":17,"color":"#111"},"encoding":{"x":{"datum":0.032},"y":{"datum":0.17},"text":{"value":"=30"}}}
]},
 {"mark":{"type":"line","opacity":0},"encoding":{"x":{"field":"t","type":"quantitative","title":"Scaled crystallization time (tᵣ)"},"y":{"field":"m","type":"quantitative","axis":{"orient":"right","values":[0,0.5,1,1.5,2,2.5,3],"labels":false,"title":null,"domain":false,"tickSize":-4}}}}
]},
{"width":248,"height":231,"data":{"name":"f"},"resolve":{"axis":{"y":"independent"}},"layer":[{"layer":[
 {"transform":[{"fold":["s1","s2","s3","s4","s5","s6","s7","s8","s9","s10","s11","s12","s13","s14"],"as":["k","v"]}],
  "mark":{"type":"line","interpolate":"monotone","color":"#c98f7e","strokeWidth":0.9,"opacity":0.55,"clip":true},
  "encoding":{"x":{"field":"t","type":"quantitative","scale":{"domain":[0,1],"reverse":true},"axis":{"values":[0,0.2,0.4,0.6,0.8,1],"labelExpr":"format(datum.value,'~g')","title":"Scaled crystallization time (tᵣ)"}},
   "y":{"field":"v","type":"quantitative","scale":{"domain":[0,3]},"axis":{"values":[0,0.5,1,1.5,2,2.5,3],"labels":false,"title":null}},
   "detail":{"field":"k"}}},
 {"mark":{"type":"line","interpolate":"monotone","color":"#9b1b22","strokeWidth":3.2},
  "encoding":{"x":{"field":"t","type":"quantitative","title":"Scaled crystallization time (tᵣ)"},"y":{"field":"m","type":"quantitative","title":null}}},
 {"data":{"values":[{}]},"mark":{"type":"point","shape":"square","size":900,"filled":true,"fill":"white","stroke":"#000","strokeWidth":1.3,"opacity":1},"encoding":{"x":{"datum":0.081},"y":{"datum":2.7}}},
 {"data":{"values":[{}]},"mark":{"type":"text","align":"center","baseline":"middle","fontSize":24,"fontWeight":"bold","color":"#000"},"encoding":{"x":{"datum":0.081},"y":{"datum":2.7},"text":{"value":"f"}}},
 {"data":{"values":[{}]},"mark":{"type":"text","align":"right","baseline":"middle","fontSize":17,"dx":-49,"color":"#111"},"encoding":{"x":{"datum":0.032},"y":{"datum":0.17},"text":{"value":"N"}}},
 {"data":{"values":[{}]},"mark":{"type":"text","align":"right","baseline":"middle","fontSize":11,"dx":-38.3,"dy":4,"color":"#111"},"encoding":{"x":{"datum":0.032},"y":{"datum":0.17},"text":{"value":"Zr"}}},
 {"data":{"values":[{}]},"mark":{"type":"text","align":"right","baseline":"middle","fontSize":17,"color":"#111"},"encoding":{"x":{"datum":0.032},"y":{"datum":0.17},"text":{"value":"=100"}}}
]},
 {"mark":{"type":"line","opacity":0},"encoding":{"x":{"field":"t","type":"quantitative","title":"Scaled crystallization time (tᵣ)"},"y":{"field":"m","type":"quantitative","axis":{"orient":"right","values":[0,0.5,1,1.5,2,2.5,3],"labels":false,"title":null,"domain":false,"tickSize":-4}}}}
]},
{"width":248,"height":231,"data":{"name":"g"},"resolve":{"axis":{"y":"independent"}},"layer":[{"layer":[
 {"transform":[{"fold":["s1","s2","s3","s4","s5","s6","s7","s8"],"as":["k","v"]}],
  "mark":{"type":"line","interpolate":"monotone","color":"#c98f7e","strokeWidth":0.8,"opacity":0.6,"clip":true},
  "encoding":{"x":{"field":"t","type":"quantitative","scale":{"domain":[0,1],"reverse":true},"axis":{"values":[0,0.2,0.4,0.6,0.8,1],"labelExpr":"format(datum.value,'~g')","title":"Scaled crystallization time (tᵣ)"}},
   "y":{"field":"v","type":"quantitative","scale":{"domain":[0,3]},"axis":{"values":[0,0.5,1,1.5,2,2.5,3],"labels":false,"title":null}},
   "detail":{"field":"k"}}},
 {"mark":{"type":"line","interpolate":"monotone","color":"#9b1b22","strokeWidth":3.2},
  "encoding":{"x":{"field":"t","type":"quantitative","title":"Scaled crystallization time (tᵣ)"},"y":{"field":"m","type":"quantitative","title":null}}},
 {"data":{"values":[{}]},"mark":{"type":"point","shape":"square","size":900,"filled":true,"fill":"white","stroke":"#000","strokeWidth":1.3,"opacity":1},"encoding":{"x":{"datum":0.081},"y":{"datum":2.7}}},
 {"data":{"values":[{}]},"mark":{"type":"text","align":"center","baseline":"middle","fontSize":24,"fontWeight":"bold","color":"#000"},"encoding":{"x":{"datum":0.081},"y":{"datum":2.7},"text":{"value":"g"}}},
 {"data":{"values":[{}]},"mark":{"type":"text","align":"right","baseline":"middle","fontSize":17,"dx":-58.5,"color":"#111"},"encoding":{"x":{"datum":0.032},"y":{"datum":0.17},"text":{"value":"N"}}},
 {"data":{"values":[{}]},"mark":{"type":"text","align":"right","baseline":"middle","fontSize":11,"dx":-47.7,"dy":4,"color":"#111"},"encoding":{"x":{"datum":0.032},"y":{"datum":0.17},"text":{"value":"Zr"}}},
 {"data":{"values":[{}]},"mark":{"type":"text","align":"right","baseline":"middle","fontSize":17,"color":"#111"},"encoding":{"x":{"datum":0.032},"y":{"datum":0.17},"text":{"value":"=1000"}}}
]},
 {"mark":{"type":"line","opacity":0},"encoding":{"x":{"field":"t","type":"quantitative","title":"Scaled crystallization time (tᵣ)"},"y":{"field":"m","type":"quantitative","axis":{"orient":"right","values":[0,0.5,1,1.5,2,2.5,3],"labels":false,"title":null,"domain":false,"tickSize":-4}}}}
]},
{"width":248,"height":231,"data":{"name":"h"},"resolve":{"axis":{"y":"independent"}},"layer":[{"layer":[
 {"mark":{"type":"line","interpolate":"monotone","color":"#d8a899","strokeWidth":6.5,"opacity":0.9,"clip":true},
  "encoding":{"x":{"field":"t","type":"quantitative","scale":{"domain":[0,1],"reverse":true},"axis":{"values":[0,0.2,0.4,0.6,0.8,1],"labelExpr":"format(datum.value,'~g')","title":"Scaled crystallization time (tᵣ)"}},
   "y":{"field":"m","type":"quantitative","scale":{"domain":[0,3]},"axis":{"values":[0,0.5,1,1.5,2,2.5,3],"labels":false,"title":null}}}},
 {"mark":{"type":"line","interpolate":"monotone","color":"#9b1b22","strokeWidth":3.2},
  "encoding":{"x":{"field":"t","type":"quantitative","title":"Scaled crystallization time (tᵣ)"},"y":{"field":"m","type":"quantitative","title":null}}},
 {"data":{"values":[{}]},"mark":{"type":"point","shape":"square","size":900,"filled":true,"fill":"white","stroke":"#000","strokeWidth":1.3,"opacity":1},"encoding":{"x":{"datum":0.081},"y":{"datum":2.7}}},
 {"data":{"values":[{}]},"mark":{"type":"text","align":"center","baseline":"middle","fontSize":24,"fontWeight":"bold","color":"#000"},"encoding":{"x":{"datum":0.081},"y":{"datum":2.7},"text":{"value":"h"}}},
 {"data":{"values":[{}]},"mark":{"type":"text","align":"right","baseline":"middle","fontSize":17,"dx":-68,"color":"#111"},"encoding":{"x":{"datum":0.032},"y":{"datum":0.17},"text":{"value":"N"}}},
 {"data":{"values":[{}]},"mark":{"type":"text","align":"right","baseline":"middle","fontSize":11,"dx":-57.2,"dy":4,"color":"#111"},"encoding":{"x":{"datum":0.032},"y":{"datum":0.17},"text":{"value":"Zr"}}},
 {"data":{"values":[{}]},"mark":{"type":"text","align":"right","baseline":"middle","fontSize":17,"color":"#111"},"encoding":{"x":{"datum":0.032},"y":{"datum":0.17},"text":{"value":"=10000"}}}
]},
 {"mark":{"type":"line","opacity":0},"encoding":{"x":{"field":"t","type":"quantitative","title":"Scaled crystallization time (tᵣ)"},"y":{"field":"m","type":"quantitative","axis":{"orient":"right","values":[0,0.5,1,1.5,2,2.5,3],"labels":false,"title":null,"domain":false,"tickSize":-4}}}}
]}
],"spacing":27,"bounds":"flush"}
],
"config":{
 "font":"Liberation Sans",
 "view":{"stroke":"#222","strokeWidth":1.2},
 "text":{"font":"Liberation Sans"},
 "axis":{"grid":false,"domainColor":"#222","domainWidth":1.2,"tickColor":"#222","tickSize":4,"labelFont":"Liberation Sans","labelFontSize":17,"labelColor":"#222","labelFlush":false,"labelOverlap":false,"titleFont":"Liberation Sans","titleFontSize":17.5,"titleFontWeight":"normal","titleColor":"#222","labelPadding":3,"titlePadding":5},
 "axisX":{"titleFontSize":18.5},
 "axisY":{"titlePadding":9,"labelPadding":6,"titleLineHeight":23}
}
}
